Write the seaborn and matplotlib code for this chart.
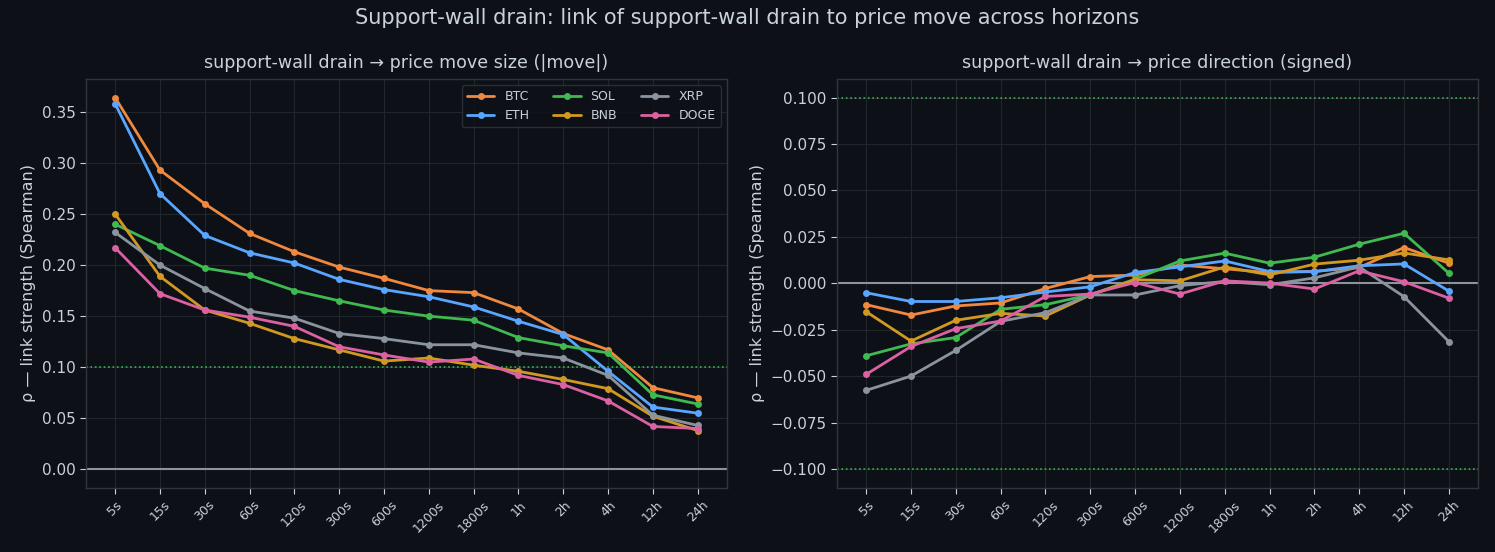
import matplotlib
matplotlib.use("Agg")
import matplotlib.pyplot as plt
import seaborn as sns
import pandas as pd

horizons = ["5s", "15s", "30s", "60s", "120s", "300s", "600s", "1200s", "1800s",
            "1h", "2h", "4h", "12h", "24h"]
coins = ["BTC", "ETH", "SOL", "BNB", "XRP", "DOGE"]

size_btc = [0.364, 0.293, 0.260, 0.231, 0.213, 0.198, 0.187, 0.175, 0.173, 0.157, 0.133, 0.117, 0.080, 0.070]
size_eth = [0.358, 0.270, 0.229, 0.212, 0.202, 0.186, 0.176, 0.169, 0.159, 0.145, 0.132, 0.096, 0.061, 0.055]
size_sol = [0.240, 0.219, 0.197, 0.190, 0.175, 0.165, 0.156, 0.150, 0.146, 0.129, 0.121, 0.114, 0.073, 0.064]
size_bnb = [0.250, 0.189, 0.156, 0.143, 0.128, 0.117, 0.106, 0.109, 0.102, 0.096, 0.088, 0.079, 0.052, 0.038]
size_xrp = [0.232, 0.200, 0.177, 0.155, 0.148, 0.133, 0.128, 0.122, 0.122, 0.114, 0.109, 0.092, 0.053, 0.043]
size_doge = [0.217, 0.172, 0.156, 0.149, 0.140, 0.120, 0.112, 0.105, 0.108, 0.092, 0.083, 0.067, 0.042, 0.040]

dir_btc = [-0.0114, -0.0170, -0.0121, -0.0105, -0.0027, 0.0037, 0.0045, 0.0099, 0.0079, 0.0058, 0.0065, 0.0086, 0.0193, 0.0109]
dir_eth = [-0.0050, -0.0097, -0.0097, -0.0077, -0.0046, -0.0018, 0.0059, 0.0089, 0.0121, 0.0064, 0.0063, 0.0095, 0.0105, -0.0041]
dir_sol = [-0.0389, -0.0325, -0.0291, -0.0139, -0.0114, -0.0061, 0.0023, 0.0121, 0.0163, 0.0109, 0.0141, 0.0211, 0.0270, 0.0055]
dir_bnb = [-0.0152, -0.0310, -0.0198, -0.0161, -0.0175, -0.0062, 0.0020, 0.0014, 0.0089, 0.0046, 0.0104, 0.0125, 0.0164, 0.0127]
dir_xrp = [-0.0575, -0.0498, -0.0360, -0.0204, -0.0157, -0.0062, -0.0062, -0.0012, 0.0011, -0.0007, 0.0030, 0.0089, -0.0071, -0.0313]
dir_doge = [-0.0489, -0.0339, -0.0243, -0.0202, -0.0070, -0.0057, 0.0005, -0.0057, 0.0014, 0.0002, -0.0030, 0.0068, 0.0009, -0.0079]

colors = {"BTC": "#f0883e", "ETH": "#58a6ff", "SOL": "#3fb950",
          "BNB": "#d29922", "XRP": "#8b949e", "DOGE": "#db61a2"}

size_vals = [size_btc, size_eth, size_sol, size_bnb, size_xrp, size_doge]
dir_vals = [dir_btc, dir_eth, dir_sol, dir_bnb, dir_xrp, dir_doge]

def long_df(vals):
    rows = []
    for c, v in zip(coins, vals):
        for i, (h, y) in enumerate(zip(horizons, v)):
            rows.append({"pos": i, "horizon": h, "coin": c, "rho": y})
    return pd.DataFrame(rows)

df_size = long_df(size_vals)
df_dir = long_df(dir_vals)

BG = "#0d1117"
FIG_BG = "#0d1017"
TXT = "#c9d1d9"
GRID = "#21262d"
SPINE = "#30363d"

sns.set_theme(style="dark")
plt.rcParams.update({
    "figure.facecolor": FIG_BG,
    "axes.facecolor": BG,
    "axes.edgecolor": SPINE,
    "axes.labelcolor": TXT,
    "text.color": TXT,
    "xtick.color": TXT,
    "ytick.color": TXT,
    "grid.color": GRID,
    "font.family": ["DejaVu Sans"],
})

fig, axes = plt.subplots(1, 2, figsize=(14.95, 5.52), dpi=100)
fig.subplots_adjust(left=0.0575, right=0.9886, top=0.857, bottom=0.116, wspace=0.172)

for ax, df, title in [(axes[0], df_size, "support-wall drain \u2192 price move size (|move|)"),
                      (axes[1], df_dir, "support-wall drain \u2192 price direction (signed)")]:
    sns.lineplot(data=df, x="pos", y="rho", hue="coin", palette=colors, hue_order=coins,
                 marker="o", markersize=5, markeredgewidth=0, linewidth=2, ax=ax,
                 legend=(ax is axes[0]))
    ax.axhline(0, color="#8b949e", linewidth=1.5, zorder=1)
    ax.axhline(0.1, color="#3fb950", linestyle=":", linewidth=1.2, alpha=0.95, zorder=1)
    if ax is axes[1]:
        ax.axhline(-0.1, color="#3fb950", linestyle=":", linewidth=1.2, alpha=0.95, zorder=1)
    ax.set_xticks(range(len(horizons)))
    ax.set_xticklabels(horizons, rotation=45, fontsize=9, color=TXT)
    ax.tick_params(axis="y", labelsize=11, colors=TXT, length=4, width=0.8, left=True)
    ax.tick_params(axis="x", colors=TXT, length=4, width=0.8, bottom=True)
    ax.grid(True, color=GRID, linewidth=0.8)
    ax.set_axisbelow(True)
    ax.set_xlabel("")
    ax.set_ylabel("\u03c1 \u2014 link strength (Spearman)", fontsize=11.5, color=TXT)
    ax.set_title(title, fontsize=12.6, color=TXT, pad=8)
    for s in ax.spines.values():
        s.set_color(SPINE)
        s.set_linewidth(1)

axes[1].set_yticks([-0.1, -0.075, -0.05, -0.025, 0, 0.025, 0.05, 0.075, 0.1])
axes[1].set_yticklabels(["\u22120.100", "\u22120.075", "\u22120.050", "\u22120.025", "0.000",
                         "0.025", "0.050", "0.075", "0.100"])

leg = axes[0].legend(loc="upper right", ncol=3, fontsize=9, frameon=True,
                     facecolor=BG, edgecolor=SPINE, labelcolor=TXT,
                     columnspacing=1.9, handlelength=2.2, title=None)
leg.get_frame().set_linewidth(1)

fig.suptitle("Support-wall drain: link of support-wall drain to price move across horizons",
             fontsize=15, color=TXT, y=0.985)

fig.savefig("out.png", dpi=100, facecolor=FIG_BG)
